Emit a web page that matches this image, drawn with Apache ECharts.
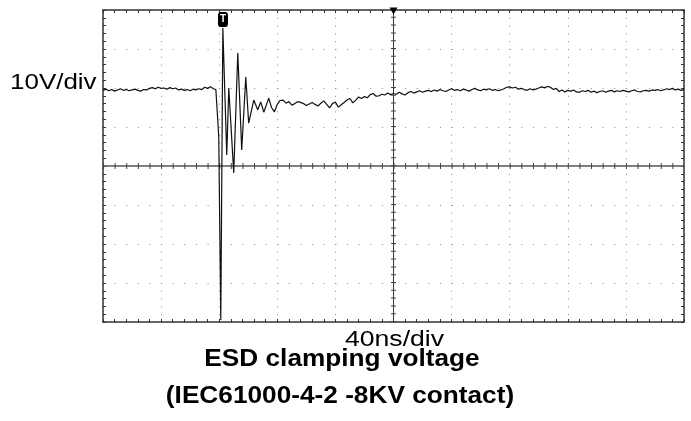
<!DOCTYPE html>
<html>
<head>
<meta charset="utf-8">
<script src="https://cdn.jsdelivr.net/npm/echarts@6/dist/echarts.min.js"></script>
<style>
  html, body { margin: 0; padding: 0; background: #fff; }
  #chart { width: 691px; height: 421px; }
</style>
</head>
<body>
<div id="chart"></div>
<script>
// scope settings: 40ns/div over 10 divs, 10V/div over 8 divs
const timeMinNs = -80;
const timeMaxNs = 320;
const timePerDiv = 40;
const voltMin = -40;
const voltMax = 40;
const voltPerDiv = 10;
const centerTimeNs = 120;
const triggerTimeNs = 2.6;

// before the ESD hit, one sample every 2ns starting at -80ns
const sampleStepNs = 2;
const preTriggerV = [
  19.4, 19.7, 19.3, 19.6, 19.2, 19.5, 19.8, 19.4, 19.6, 19.3,
  19.5, 19.7, 19.4, 19.2, 19.6, 19.5, 19.9, 20.1, 19.8, 20.2,
  19.9, 20.0, 19.7, 20.1, 19.8, 20.0, 19.5, 19.7, 19.4, 19.6,
  19.3, 19.7, 19.5, 19.8, 19.6, 20.2, 19.9, 20.3, 19.8
];

// the discharge and its ringing
const ringTimeNs = [-2.3, -1.3, -0.3, 1.1, 2.5, 5.2, 6.6, 10.0, 12.8, 15.5, 18.3, 20.3, 23.8, 26.5, 28.6, 30.7, 34.1];
const ringV = [19.6, 13.6, 7.4, -39.5, 35.4, 2.8, 20.0, -1.8, 29.0, 4.1, 22.8, 11.0, 16.9, 14.4, 16.4, 13.8, 17.4];

// settling tail, one sample every 2ns starting at 36ns
const tailStartNs = 36;
const tailV = [
  15.0, 13.9, 15.8, 16.8, 16.9, 16.1, 16.5, 15.6, 16.0, 16.5,
  16.3, 16.0, 15.5, 15.9, 16.3, 15.8, 15.4, 16.1, 16.7, 15.8,
  14.9, 16.0, 16.4, 15.1, 15.7, 16.3, 16.9, 17.3, 16.2, 16.9,
  17.7, 17.3, 17.8, 17.5, 18.3, 18.6, 17.9, 18.0, 18.4, 18.2,
  18.7, 18.3, 18.6, 18.4, 18.9, 18.5, 18.2, 18.8, 19.1, 18.7,
  19.0, 19.3, 18.9, 19.2, 19.4, 19.1, 19.5, 19.2, 19.6, 19.3,
  19.1, 19.5, 19.8, 19.4, 19.6, 19.3, 19.7, 19.5, 19.2, 19.6,
  19.9, 19.5, 19.3, 19.7, 19.5, 19.8, 19.4, 19.6, 19.3, 19.5,
  19.8, 20.2, 20.3, 20.0, 20.2, 19.7, 19.9, 19.6, 19.4, 19.8,
  19.5, 19.7, 20.0, 20.3, 20.1, 20.4, 20.2, 19.6, 19.9, 19.1,
  19.5, 19.0, 19.4, 19.2, 19.5, 19.0, 18.9, 19.3, 19.1, 19.4,
  18.9, 19.2, 18.8, 19.1, 19.3, 18.9, 19.2, 19.4, 19.0, 19.3,
  19.1, 19.4, 19.2, 19.0, 19.3, 19.5, 19.1, 19.0, 19.3, 19.4,
  19.2, 19.5, 19.4, 19.6, 19.3, 19.5, 19.8, 19.6, 19.9, 19.5,
  19.7, 19.4, 19.6
];

const trace = [];
preTriggerV.forEach((v, i) => trace.push([timeMinNs + i * sampleStepNs, v]));
ringV.forEach((v, i) => trace.push([ringTimeNs[i], v]));
tailV.forEach((v, i) => trace.push([tailStartNs + i * sampleStepNs, v]));

const borderColor = "#333";
const dotColor = "#8a8a8a";
const font = '"Liberation Sans", Arial, sans-serif';

// frame axis: border line + small inward ticks every 1/5 div
const frameAxis = (position, perDiv, min, max, withGrid, dotDash) => ({
  type: "value",
  position: position,
  min: min,
  max: max,
  interval: perDiv,
  axisLine: { show: true, onZero: false, lineStyle: { color: borderColor, width: 1.5 } },
  axisTick: { show: true, inside: true, length: 3, lineStyle: { color: borderColor } },
  minorTick: { show: true, splitNumber: 5, length: 3, lineStyle: { color: borderColor } },
  axisLabel: { show: false },
  splitLine: { show: withGrid, lineStyle: { color: dotColor, width: 1, type: dotDash } },
});

const chart = echarts.init(document.getElementById("chart"), null, { renderer: "canvas" });

chart.setOption({
  animation: false,
  backgroundColor: "#fff",
  grid: { left: 103, right: 7, top: 10, bottom: 99 },
  xAxis: [
    frameAxis("bottom", timePerDiv, timeMinNs, timeMaxNs, true, [1, 6.8]),
    frameAxis("top", timePerDiv, timeMinNs, timeMaxNs, false, "solid"),
  ],
  yAxis: [
    frameAxis("left", voltPerDiv, voltMin, voltMax, true, [1, 10.62]),
    frameAxis("right", voltPerDiv, voltMin, voltMax, false, "solid"),
  ],
  series: [
    {
      type: "line",
      data: trace,
      showSymbol: false,
      lineStyle: { color: "#111", width: 1.2 },
      z: 5,
      markLine: {
        silent: true,
        symbol: ["none", "none"],
        label: { show: false },
        animation: false,
        data: [
          { xAxis: centerTimeNs, lineStyle: { color: "#333", width: 1, type: "solid" } },
          { yAxis: 0, lineStyle: { color: "#555", width: 1.5, type: "solid" } },
          { xAxis: centerTimeNs, lineStyle: { color: "#444", width: 5, type: [1, 6.8] } },
          { yAxis: 0, lineStyle: { color: "#444", width: 6, type: [1, 10.62] } },
        ],
      },
      markPoint: {
        silent: true,
        animation: false,
        data: [
          {
            coord: [triggerTimeNs, voltMax],
            symbol: "roundRect",
            symbolSize: [10, 15],
            symbolOffset: [0, 9.5],
            itemStyle: { color: "#000" },
            label: { show: true, formatter: "T", color: "#fff", fontSize: 10, fontWeight: "bold", fontFamily: font },
          },
          {
            coord: [centerTimeNs, voltMax],
            symbol: "triangle",
            symbolRotate: 180,
            symbolSize: [8, 7],
            symbolOffset: [0, 1],
            itemStyle: { color: "#000" },
            label: { show: false },
          },
        ],
      },
    },
  ],
  graphic: [
    {
      type: "text", x: 10, y: 83, scaleX: 1.18,
      style: { text: "10V/div", font: "22px " + font, fill: "#000", align: "left", verticalAlign: "middle" },
    },
    {
      type: "text", x: 394.5, y: 340, scaleX: 1.21,
      style: { text: "40ns/div", font: "22px " + font, fill: "#000", align: "center", verticalAlign: "middle" },
    },
    {
      type: "text", x: 342, y: 360, scaleX: 1.14,
      style: { text: "ESD clamping voltage", font: "bold 23px " + font, fill: "#000", align: "center", verticalAlign: "middle" },
    },
    {
      type: "text", x: 340, y: 397, scaleX: 1.14,
      style: { text: "(IEC61000-4-2 -8KV contact)", font: "bold 23px " + font, fill: "#000", align: "center", verticalAlign: "middle" },
    },
  ],
});
</script>
</body>
</html>
